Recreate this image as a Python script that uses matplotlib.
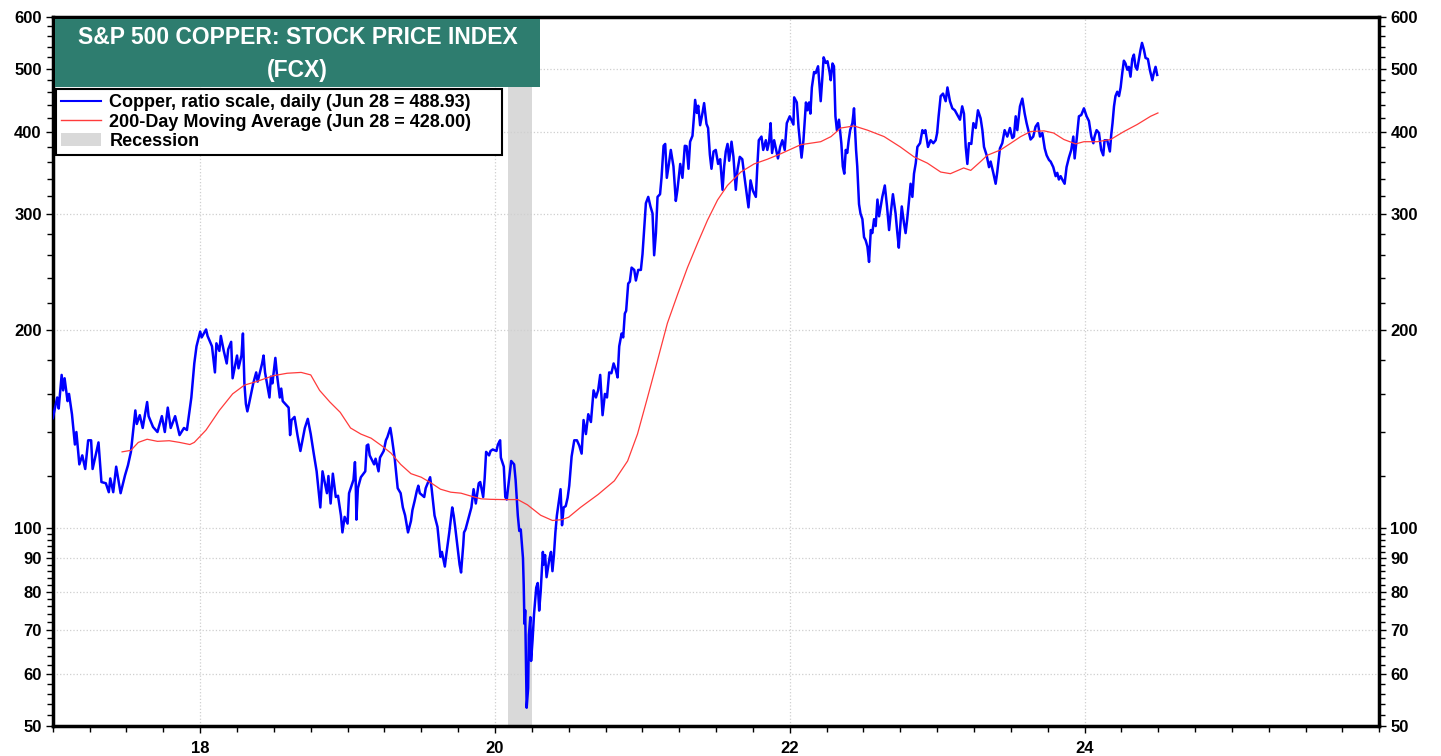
import numpy as np
import matplotlib.pyplot as plt
from matplotlib.patches import Rectangle, Patch
from matplotlib.lines import Line2D
from matplotlib.ticker import NullFormatter

plt.rcParams['font.family'] = ['Liberation Sans', 'DejaVu Sans']

# FCX price (decimal years)
copper_t = [
    2017.00, 2017.03, 2017.04, 2017.06, 2017.07, 2017.08, 2017.10, 2017.11, 2017.13, 2017.15, 2017.16, 2017.18,
    2017.20, 2017.22, 2017.24, 2017.26, 2017.27, 2017.31, 2017.33, 2017.36, 2017.38, 2017.39, 2017.41, 2017.43,
    2017.46, 2017.49, 2017.51, 2017.53, 2017.56, 2017.57, 2017.59, 2017.61, 2017.64, 2017.65, 2017.68, 2017.71,
    2017.74, 2017.76, 2017.78, 2017.80, 2017.83, 2017.86, 2017.89, 2017.91, 2017.94, 2017.96, 2017.975, 2018.00,
    2018.01, 2018.04, 2018.05, 2018.08, 2018.10, 2018.11, 2018.13, 2018.14, 2018.16, 2018.18, 2018.19, 2018.21,
    2018.22, 2018.25, 2018.26, 2018.28, 2018.29, 2018.30, 2018.31, 2018.32, 2018.33, 2018.36, 2018.38, 2018.39,
    2018.42, 2018.43, 2018.44, 2018.47, 2018.48, 2018.49, 2018.51, 2018.52, 2018.54, 2018.55, 2018.56, 2018.60,
    2018.61, 2018.62, 2018.64, 2018.66, 2018.68, 2018.71, 2018.73, 2018.75, 2018.77, 2018.79, 2018.815, 2018.83,
    2018.86, 2018.87, 2018.885, 2018.90, 2018.92, 2018.935, 2018.955, 2018.965, 2018.98, 2019.00, 2019.01, 2019.04,
    2019.05, 2019.055, 2019.06, 2019.07, 2019.09, 2019.12, 2019.13, 2019.14, 2019.15, 2019.18, 2019.19, 2019.21,
    2019.22, 2019.245, 2019.26, 2019.27, 2019.29, 2019.30, 2019.32, 2019.33, 2019.34, 2019.36, 2019.375, 2019.39,
    2019.40, 2019.41, 2019.43, 2019.44, 2019.455, 2019.47, 2019.48, 2019.49, 2019.52, 2019.53, 2019.56, 2019.57,
    2019.59, 2019.61, 2019.63, 2019.64, 2019.66, 2019.67, 2019.69, 2019.71, 2019.72, 2019.73, 2019.75, 2019.76,
    2019.77, 2019.785, 2019.79, 2019.80, 2019.825, 2019.84, 2019.855, 2019.87, 2019.89, 2019.90, 2019.92, 2019.93,
    2019.94, 2019.96, 2019.97, 2019.985, 2020.01, 2020.02, 2020.035, 2020.04, 2020.06, 2020.07, 2020.08, 2020.097,
    2020.11, 2020.13, 2020.14, 2020.155, 2020.165, 2020.175, 2020.19, 2020.195, 2020.20, 2020.205, 2020.21, 2020.215,
    2020.225, 2020.23, 2020.24, 2020.245, 2020.255, 2020.265, 2020.28, 2020.29, 2020.30, 2020.31, 2020.325, 2020.33,
    2020.34, 2020.35, 2020.37, 2020.38, 2020.39, 2020.40, 2020.41, 2020.42, 2020.435, 2020.445, 2020.455, 2020.466,
    2020.48, 2020.493, 2020.504, 2020.52, 2020.538, 2020.556, 2020.572, 2020.588, 2020.601, 2020.617, 2020.633, 2020.651,
    2020.669, 2020.685, 2020.70, 2020.714, 2020.73, 2020.746, 2020.76, 2020.775, 2020.79, 2020.805, 2020.82, 2020.832,
    2020.843, 2020.859, 2020.87, 2020.881, 2020.89, 2020.904, 2020.915, 2020.927, 2020.945, 2020.956, 2020.972, 2020.99,
    2021.001, 2021.013, 2021.024, 2021.04, 2021.055, 2021.069, 2021.08, 2021.092, 2021.103, 2021.12, 2021.13, 2021.144,
    2021.155, 2021.166, 2021.18, 2021.193, 2021.211, 2021.227, 2021.238, 2021.257, 2021.272, 2021.288, 2021.30, 2021.313,
    2021.324, 2021.34, 2021.352, 2021.358, 2021.37, 2021.379, 2021.392, 2021.408, 2021.419, 2021.435, 2021.446, 2021.458,
    2021.469, 2021.483, 2021.498, 2021.514, 2021.528, 2021.544, 2021.555, 2021.566, 2021.578, 2021.589, 2021.605, 2021.618,
    2021.634, 2021.645, 2021.661, 2021.678, 2021.69, 2021.72, 2021.734, 2021.75, 2021.77, 2021.78, 2021.79, 2021.808,
    2021.82, 2021.838, 2021.848, 2021.86, 2021.87, 2021.88, 2021.894, 2021.92, 2021.935, 2021.95, 2021.966, 2021.98,
    2022.00, 2022.01, 2022.025, 2022.03, 2022.048, 2022.06, 2022.08, 2022.093, 2022.11, 2022.12, 2022.131, 2022.14,
    2022.15, 2022.165, 2022.176, 2022.192, 2022.21, 2022.22, 2022.23, 2022.244, 2022.256, 2022.27, 2022.278, 2022.29,
    2022.30, 2022.31, 2022.32, 2022.334, 2022.35, 2022.36, 2022.37, 2022.38, 2022.39, 2022.40, 2022.41, 2022.425,
    2022.436, 2022.45, 2022.458, 2022.47, 2022.48, 2022.493, 2022.504, 2022.515, 2022.527, 2022.538, 2022.55, 2022.56,
    2022.572, 2022.583, 2022.595, 2022.606, 2022.617, 2022.628, 2022.645, 2022.66, 2022.674, 2022.685, 2022.70, 2022.718,
    2022.73, 2022.74, 2022.75, 2022.76, 2022.775, 2022.786, 2022.797, 2022.81, 2022.82, 2022.832, 2022.843, 2022.855,
    2022.866, 2022.884, 2022.90, 2022.91, 2022.92, 2022.938, 2022.956, 2022.974, 2022.99, 2023.00, 2023.01, 2023.024,
    2023.04, 2023.058, 2023.07, 2023.087, 2023.103, 2023.12, 2023.137, 2023.155, 2023.17, 2023.182, 2023.194, 2023.205,
    2023.216, 2023.232, 2023.246, 2023.262, 2023.277, 2023.295, 2023.307, 2023.318, 2023.336, 2023.352, 2023.363, 2023.381,
    2023.397, 2023.408, 2023.426, 2023.442, 2023.458, 2023.476, 2023.494, 2023.51, 2023.521, 2023.533, 2023.544, 2023.562,
    2023.578, 2023.594, 2023.607, 2023.623, 2023.634, 2023.652, 2023.668, 2023.684, 2023.698, 2023.714, 2023.73, 2023.743,
    2023.759, 2023.77, 2023.788, 2023.804, 2023.815, 2023.826, 2023.838, 2023.849, 2023.865, 2023.878, 2023.894, 2023.91,
    2023.924, 2023.933, 2023.946, 2023.962, 2023.978, 2023.996, 2024.014, 2024.03, 2024.046, 2024.06, 2024.068, 2024.082,
    2024.098, 2024.113, 2024.127, 2024.136, 2024.154, 2024.172, 2024.181, 2024.19, 2024.20, 2024.21, 2024.222, 2024.234,
    2024.245, 2024.256, 2024.267, 2024.278, 2024.29, 2024.301, 2024.312, 2024.324, 2024.335, 2024.346, 2024.357, 2024.369,
    2024.38, 2024.39, 2024.403, 2024.414, 2024.43, 2024.443, 2024.46, 2024.47, 2024.482, 2024.493,
]
copper_v = [
    147, 158, 152, 171, 162, 169, 156, 160, 149, 134, 140, 125,
    129, 123, 136, 136, 123, 135, 117.5, 117, 113.4, 119, 113.4, 124,
    113, 120.3, 124.6, 130.6, 151, 144, 148.5, 142, 155.5, 148, 142.5, 140,
    148, 140, 152.5, 142, 148, 138.5, 142, 141, 158, 178, 189, 199,
    195, 200.5, 196, 189, 172.5, 191, 186, 196, 186, 178, 187, 192,
    169, 183, 175, 183, 197.7, 166, 154.5, 150.5, 154, 166, 172.5, 167,
    178, 183, 172.5, 158, 170, 166, 181.5, 172, 158, 163, 156, 152.5,
    138.5, 146, 147.6, 138.5, 131, 142, 146.6, 139, 130, 122, 107.5, 122,
    113, 120, 109, 121, 111.5, 112, 104.5, 98.5, 104, 101.6, 113, 118.4,
    126, 118, 103, 115, 119.5, 122, 133.5, 134, 129, 125, 127.5, 122,
    128, 131, 136, 137.5, 142, 137.5, 127.5, 121, 115, 113, 107.5, 104.6,
    101.6, 98.5, 102.5, 106.5, 110, 114, 116, 113, 111.5, 115, 119.5, 115,
    104.5, 100.4, 90.4, 92, 87.4, 91.2, 98.5, 107.5, 104.5, 100.4, 92, 88,
    85.6, 94.4, 98.5, 99.5, 104.5, 107.5, 114.6, 109, 117, 117.5, 111.5, 119,
    130.6, 129, 131, 131.7, 131, 134, 136, 128, 124, 111.5, 110.5, 119.5,
    126.5, 125, 118.4, 104.5, 99, 99.5, 90, 82, 71.5, 75, 62.8, 53.3,
    57.1, 68.8, 73.2, 62.8, 67.5, 74, 81.2, 82.5, 74.9, 80, 92, 88,
    91, 84.2, 90, 92, 86, 91, 98.5, 104.5, 110.5, 114.6, 101, 107.5,
    108, 111.2, 116, 128.5, 136, 136, 133.5, 129.8, 146, 139, 149, 145,
    162, 158, 162, 171, 148.5, 160, 158, 172.5, 172, 178, 174, 169.5,
    189, 197.7, 195, 212, 214, 235.5, 237, 249, 247, 238, 247, 247,
    261, 287, 312, 319, 308.5, 301, 260, 281, 319, 322, 341, 381.5,
    384, 341, 358, 376, 355, 314.5, 327, 358, 341, 381.5, 381, 352,
    387, 395, 428, 448, 428, 439, 410, 428, 443, 412, 406, 370,
    352, 374, 376, 358, 364, 327, 355, 374, 384, 362, 387, 367,
    327, 350, 367, 364, 346, 307.5, 338, 326, 319, 355, 389, 394,
    376, 389, 376, 387, 413, 372, 389, 365, 380, 389, 376, 413,
    423, 418, 411, 452, 444, 406, 366, 389, 444, 432, 444, 427,
    468, 494, 492, 504, 446, 480, 520, 510, 513, 494, 480, 509,
    504, 423, 403, 418, 385, 355, 346, 376, 372, 389, 403, 413,
    435, 376, 355, 311, 301, 295, 277, 274, 268, 254, 284, 281,
    295, 288, 316, 298, 308.5, 319, 332, 308.5, 284, 301, 322, 301,
    281, 267, 288, 308.5, 291, 281, 295, 316, 334, 319, 346, 359,
    380, 385, 403, 399, 403, 380, 389, 385, 389, 399, 423, 454,
    458, 446, 468, 446, 435, 432, 425, 418, 438, 427, 380, 358,
    385, 384, 413, 406, 432, 420, 403, 380, 369, 354, 361, 347,
    334, 348, 378, 385, 403, 394, 406, 392, 394, 423, 403, 438,
    450, 427, 413, 399, 390, 394, 408, 413, 394, 399, 378, 369,
    363, 361, 354, 343, 347, 339, 343, 339, 334, 354, 366, 376,
    394, 365, 389, 423, 425, 435, 423, 416, 394, 385, 394, 403,
    399, 376, 369, 389, 389, 374, 396, 413, 438, 454, 461, 454,
    468, 492, 514, 509, 498, 503, 486, 517, 525, 503, 498, 517,
    534, 547, 534, 519, 517, 498, 480, 492, 503, 488.93,
]

# 200-day moving average
ma_t = [
    2017.47, 2017.53, 2017.58, 2017.64, 2017.71, 2017.79, 2017.86, 2017.93, 2017.96, 2018.04, 2018.13, 2018.22,
    2018.30, 2018.38, 2018.495, 2018.59, 2018.685, 2018.75, 2018.81, 2018.88, 2018.95, 2019.02, 2019.09, 2019.16,
    2019.23, 2019.295, 2019.36, 2019.43, 2019.50, 2019.57, 2019.63, 2019.70, 2019.77, 2019.84, 2019.905, 2019.97,
    2020.06, 2020.155, 2020.22, 2020.31, 2020.39, 2020.455, 2020.50, 2020.58, 2020.70, 2020.81, 2020.90, 2020.967,
    2021.035, 2021.103, 2021.17, 2021.24, 2021.306, 2021.374, 2021.442, 2021.51, 2021.577, 2021.668, 2021.758, 2021.849,
    2021.939, 2022.075, 2022.21, 2022.28, 2022.346, 2022.436, 2022.527, 2022.64, 2022.75, 2022.843, 2022.934, 2023.024,
    2023.09, 2023.18, 2023.228, 2023.295, 2023.34, 2023.43, 2023.50, 2023.567, 2023.634, 2023.725, 2023.79, 2023.86,
    2023.94, 2023.996, 2024.086, 2024.177, 2024.267, 2024.357, 2024.448, 2024.498,
]
ma_v = [
    130.6, 131.3, 135, 136.5, 135.5, 135.8, 135, 134, 135, 141, 151, 160,
    165, 167, 170.5, 172, 172.5, 171, 162, 155.5, 150, 142, 139, 137,
    133.5, 130, 125, 121, 119.5, 117, 114.6, 113.4, 113, 111.8, 110.8, 110.6,
    110.5, 110.5, 108.5, 104.6, 102.7, 103, 103.9, 107.5, 112.5, 118, 126.5, 139,
    158, 180, 205, 227, 249, 271, 294, 315.5, 332, 348, 358, 364,
    371, 383, 387, 394, 406, 409, 403, 394, 380, 367, 359, 348,
    346, 353, 350, 361, 369, 376, 385, 394, 401, 402, 399, 390,
    384, 387, 387, 390, 401, 411, 423, 428,
]

recession = (2020.09, 2020.25)

ytick_vals = [50, 60, 70, 80, 90, 100, 200, 300, 400, 500, 600]
xtick_vals = [2018, 2020, 2022, 2024]
xtick_labels = ['18', '20', '22', '24']

W, H = 1441, 756
fig = plt.figure(figsize=(W / 100, H / 100), dpi=100)
ax = fig.add_axes([52.8 / W, 1 - 726 / H, (1379.3 - 52.8) / W, (726 - 16.5) / H])

ax.axvspan(recession[0], recession[1], color='#d9d9d9', lw=0, zorder=1)
ax.plot(copper_t, copper_v, color='#0000ff', lw=1.8, zorder=3)
ax.plot(ma_t, ma_v, color='#ff3b3b', lw=0.9, zorder=4)

ax.set_yscale('log')
ax.set_ylim(50, 600)
ax.set_xlim(2017, 2026)

ax.set_yticks(ytick_vals, labels=[str(v) for v in ytick_vals])
minor_y = [v for v in list(range(52, 100, 2)) + list(range(120, 600, 20)) if v not in ytick_vals]
ax.set_yticks(minor_y, minor=True)
ax.yaxis.set_minor_formatter(NullFormatter())
ax.set_xticks(xtick_vals, labels=xtick_labels)
ax.set_xticks(np.arange(2017, 2026.01, 0.25), minor=True)

ax.tick_params(axis='both', which='both', direction='out', width=1, labelsize=12)
ax.tick_params(axis='y', which='both', left=True, right=True, labelleft=True, labelright=True, pad=3)
ax.tick_params(which='major', length=5)
ax.tick_params(which='minor', length=4)
for lab in ax.get_xticklabels() + ax.get_yticklabels():
    lab.set_fontweight('bold')
ax.tick_params(axis='x', pad=6)

ax.grid(True, which='major', color='#cfcfcf', linestyle=':', linewidth=0.9)
for s in ax.spines.values():
    s.set_linewidth(2.5)

# title box
fig.add_artist(Rectangle((55 / W, 1 - 87 / H), (540 - 55) / W, (87 - 19) / H,
                         transform=fig.transFigure, facecolor='#2e7d6f', edgecolor='none', zorder=5))
fig.text(297.5 / W, 1 - 38 / H, 'S&P 500 COPPER: STOCK PRICE INDEX', ha='center', va='center',
         color='white', fontsize=16.5, fontweight='bold', zorder=6)
fig.text(297.5 / W, 1 - 70 / H, '(FCX)', ha='center', va='center',
         color='white', fontsize=16.5, fontweight='bold', zorder=6)

handles = [Line2D([], [], color='#0000ff', lw=1.5),
           Line2D([], [], color='#ff3b3b', lw=1),
           Patch(facecolor='#d9d9d9', edgecolor='none')]
labels = ['Copper, ratio scale, daily (Jun 28 = 488.93)',
          '200-Day Moving Average (Jun 28 = 428.00)',
          'Recession']
leg = ax.legend(handles, labels, loc='upper left',
                bbox_to_anchor=(56 / W, 1 - 157 / H, (502 - 56) / W, (157 - 89) / H),
                bbox_transform=fig.transFigure, mode='expand', frameon=True, fancybox=False,
                edgecolor='black', framealpha=1, prop={'weight': 'bold', 'size': 13},
                handlelength=2.2, handletextpad=0.45, labelspacing=0.12, borderpad=0.3,
                borderaxespad=0)
leg.get_frame().set_linewidth(1.5)
leg.set_zorder(6)

fig.savefig('out.png', dpi=100)
